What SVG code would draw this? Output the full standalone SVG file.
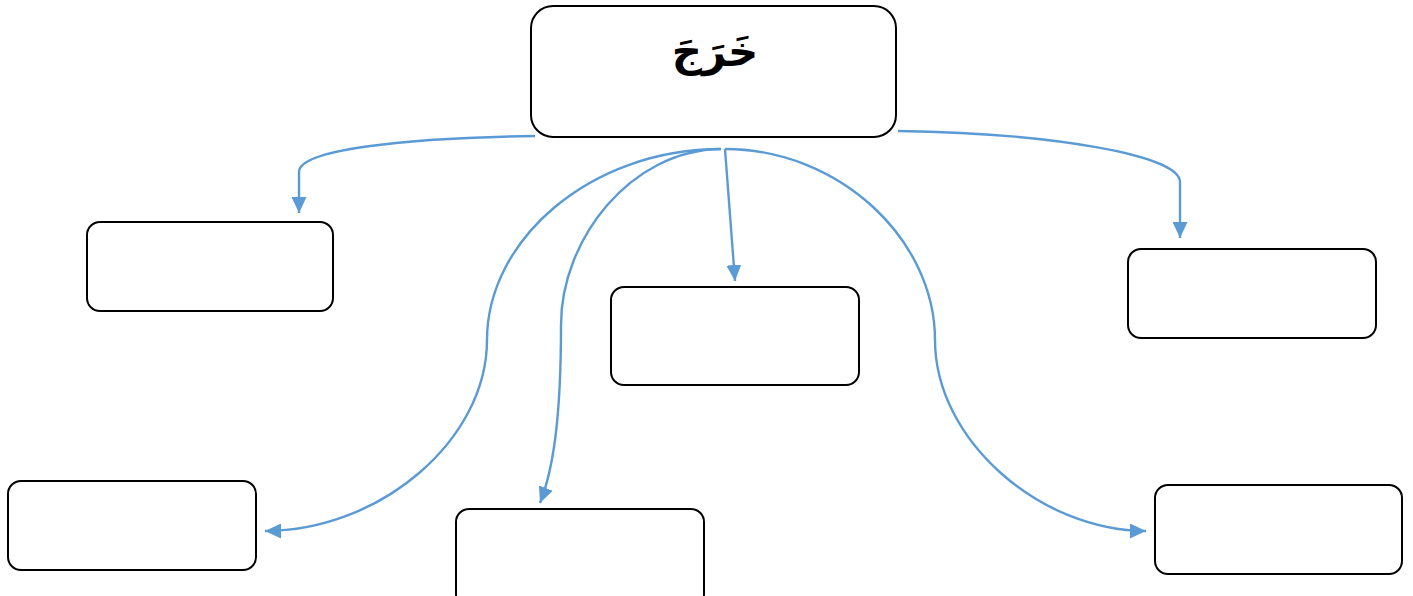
<svg xmlns="http://www.w3.org/2000/svg" width="1413" height="596" viewBox="0 0 1413 596">
<style>
.box{fill:#fff;stroke:#000;stroke-width:2}
.c{fill:none;stroke:#5B9BD5;stroke-width:2.4}
.t{font-family:"DejaVu Sans","Noto Sans",sans-serif;font-weight:bold;font-size:42px;fill:#000}
</style>
<defs>
<marker id="ah" markerUnits="userSpaceOnUse" markerWidth="17" markerHeight="15" refX="16" refY="7.5" orient="auto">
<path d="M0,0 L16,7.5 L0,15 Z" fill="#5B9BD5"/>
</marker>
</defs>
<rect width="1413" height="596" fill="#fff"/>
<g id="connectors">
<path class="c" d="M535,136 C400,138 299,150 299,172 L299,213" marker-end="url(#ah)"/>
<path class="c" d="M898,131 C1050,133 1180,155 1180,182 L1180,238" marker-end="url(#ah)"/>
<path class="c" d="M725,149 L735,281" marker-end="url(#ah)"/>
<path class="c" d="M721,149 C590,149 487,240 487,340 C487,440 380,531 265,531" marker-end="url(#ah)"/>
<path class="c" d="M721,149 C630,150 561,240 561,325 C561,420 553,470 540,503" marker-end="url(#ah)"/>
<path class="c" d="M725,149 C840,149 935,240 935,340 C935,440 1040,531 1146,531" marker-end="url(#ah)"/>
</g>
<g id="root"><rect class="box" x="531" y="6" width="365" height="131" rx="22"/><text class="t" x="715" y="66" text-anchor="middle" direction="rtl">خَرَجَ</text></g>
<g id="n1"><rect class="box" x="87" y="222" width="246" height="89" rx="13"/></g>
<g id="n2"><rect class="box" x="611" y="287" width="248" height="98" rx="13"/></g>
<g id="n3"><rect class="box" x="1128" y="249" width="248" height="89" rx="13"/></g>
<g id="n4"><rect class="box" x="8" y="481" width="248" height="89" rx="13"/></g>
<g id="n5"><rect class="box" x="456" y="509" width="248" height="98" rx="13"/></g>
<g id="n6"><rect class="box" x="1155" y="485" width="247" height="89" rx="13"/></g>
</svg>
